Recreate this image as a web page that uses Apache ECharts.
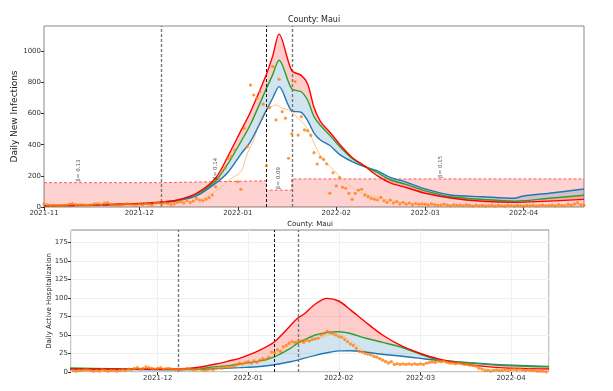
<!DOCTYPE html>
<html>
<head>
<meta charset="utf-8">
<script src="https://cdn.jsdelivr.net/npm/echarts@6/dist/echarts.min.js"></script>
<style>
html, body { margin: 0; padding: 0; background: #fff; }
#chart { width: 613px; height: 391px; }
</style>
</head>
<body>
<div id="chart"></div>
<script>
// ---------- top panel: daily new infections ----------
var topModelDates = ['2021-11-01','2021-11-15','2021-12-01','2021-12-08','2021-12-13','2021-12-19','2021-12-25','2021-12-29',
    '2022-01-02','2022-01-05','2022-01-10','2022-01-12','2022-01-14','2022-01-18','2022-01-21','2022-01-23','2022-01-25',
    '2022-01-27','2022-01-30','2022-02-02','2022-02-06','2022-02-10','2022-02-14','2022-02-18','2022-02-23','2022-03-01',
    '2022-03-09','2022-03-19','2022-03-29','2022-04-01','2022-04-09','2022-04-20'];
var topRed   = [8, 12, 22, 32, 45, 88, 185, 330, 490, 610, 850, 970, 1110, 875, 845, 790, 640, 550, 480, 405, 318, 262, 200, 155, 125, 88, 58, 37, 30, 31, 38, 49];
var topGreen = [8, 12, 21, 30, 43, 82, 168, 280, 420, 530, 760, 850, 942, 758, 740, 685, 580, 525, 460, 390, 312, 262, 220, 175, 145, 104, 66, 49, 38, 40, 56, 75];
var topBlue  = [8, 11, 19, 27, 40, 71, 152, 225, 340, 420, 620, 700, 773, 617, 608, 555, 475, 430, 395, 338, 292, 258, 232, 190, 160, 116, 77, 66, 56, 71, 88, 116];

var topAvgDates = ['2021-11-01','2021-11-15','2021-12-01','2021-12-10','2021-12-15','2021-12-20','2021-12-24','2021-12-27',
    '2021-12-30','2022-01-02','2022-01-04','2022-01-06','2022-01-08','2022-01-10','2022-01-13','2022-01-15','2022-01-17',
    '2022-01-20','2022-01-23','2022-01-25','2022-01-27','2022-01-30','2022-02-02','2022-02-05','2022-02-08','2022-02-13',
    '2022-02-17','2022-02-22','2022-02-27','2022-03-10','2022-03-20','2022-04-01','2022-04-20'];
var topAvg = [12, 15, 18, 25, 34, 45, 88, 130, 184, 227, 344, 430, 559, 623, 655, 634, 623, 570, 500, 410, 330, 260, 200, 140, 100, 66, 45, 28, 19, 14, 12, 11, 13];

// observed daily cases from 2021-11-01
var topObsStart = '2021-11-01';
var topObs = [20,14,10,12,8,9,10,12,18,22,15,14,16,12,10,14,20,22,16,25,28,18,15,12,10,16,22,18,14,12,
    20,15,22,18,12,25,30,18,28,22,15,20,30,35,25,40,28,38,55,45,40,50,60,77,130,184,227,250,313,323,366,
    162,114,505,387,783,719,698,740,660,265,638,901,559,820,612,570,313,469,805,462,580,495,490,460,349,276,319,306,276,88,220,
    135,188,127,120,88,49,88,109,114,77,66,56,49,45,62,40,30,45,25,35,20,30,18,25,15,22,18,20,
    18,12,20,15,10,14,18,12,8,15,10,12,8,14,10,6,12,8,10,5,8,12,6,10,8,5,12,9,6,10,8,
    5,10,8,12,6,9,14,8,10,12,7,15,10,8,18,12,20,28,15,10];

var betaDates  = ['2021-11-01','2021-12-08','2022-01-10','2022-01-18','2022-04-20'];
var betaLevels = [156, 168, 108, 180, 180];
var betaLabelDates = ['2021-11-12','2021-12-25','2022-01-14','2022-03-06'];
var betaLabelLevels = [156, 168, 108, 180];
var betaValues = ['0.13', '0.14', '0.09', '0.15'];

var changeDates = ['2021-12-08', '2022-01-10', '2022-01-18'];

var topYTicks = [0, 200, 400, 600, 800, 1000];

// ---------- bottom panel: active hospitalization ----------
var botModelDates = ['2021-11-01','2021-11-15','2021-12-01','2021-12-08','2021-12-15','2021-12-21','2021-12-26','2021-12-29',
    '2022-01-05','2022-01-10','2022-01-15','2022-01-18','2022-01-20','2022-01-24','2022-01-28','2022-02-01','2022-02-05',
    '2022-02-10','2022-02-16','2022-02-22','2022-03-01','2022-03-05','2022-03-09','2022-03-17','2022-03-28','2022-04-14'];
var botRed   = [4.2, 4.0, 3.8, 4.0, 6.5, 10.8, 15.5, 18.5, 29.7, 41, 61, 73, 78, 92, 99.5, 96, 84, 68, 50, 36.4, 25, 20, 16, 10.3, 5.9, 4.0];
var botGreen = [5.5, 4.5, 3.8, 3.6, 4.5, 7.2, 9.0, 10.8, 15, 20.5, 31, 39, 43, 50, 53.5, 54.4, 52, 46, 40, 34, 24, 18.5, 15.5, 12.4, 9.2, 7.0];
var botBlue  = [4.0, 3.5, 3.0, 3.0, 3.5, 4.5, 5.3, 5.9, 7.5, 9.8, 13.5, 16, 18.4, 22.5, 26, 28.5, 28.8, 27, 24, 21.6, 18.4, 16.5, 15, 12.8, 9.8, 7.6];

var botAvgDates = ['2021-11-01','2021-11-10','2021-11-20','2021-11-27','2021-12-05','2021-12-15','2021-12-22','2021-12-28',
    '2022-01-03','2022-01-07','2022-01-11','2022-01-15','2022-01-20','2022-01-25','2022-01-30','2022-02-02','2022-02-06',
    '2022-02-10','2022-02-14','2022-02-18','2022-02-22','2022-03-01','2022-03-08','2022-03-15','2022-03-20','2022-03-25',
    '2022-04-01','2022-04-14'];
var botAvg = [2, 2, 2.5, 5, 4.5, 3.5, 4.5, 8, 13, 17, 27, 36, 41, 45, 52, 50, 40, 28, 21, 14, 11, 11, 13.5, 11, 7, 3, 2.5, 1.5];

var botObsStart = '2021-11-01';
var botObs = [1,2,1,2,2,3,3,2,1,2,1,3,2,1,2,2,1,2,3,2,4,3,5,6,4,5,7,6,5,4,
    5,6,4,5,5,4,3,4,3,4,5,4,3,3,4,3,2,3,4,3,5,6,5,7,6,7,8,10,12,11,13,
    14,12,15,13,16,18,17,20,27,26,30,28,34,36,39,41,40,41,42,40,43,42,44,45,46,50,52,55,53,52,50,
    48,47,44,41,38,36,32,28,27,25,24,23,21,20,18,16,14,12,14,10,11,10,11,10,11,10,11,10,
    11,10,12,13,14,13,15,14,15,13,12,12,11,12,11,10,10,9,9,8,5,4,2,2,1,2,3,2,2,3,2,
    3,4,3,4,3,2,3,2,2,1,1,1,0];

var botYTicks = [0, 25, 50, 75, 100, 125, 150, 175];

// ---------- helpers ----------
var FONT = 'DejaVu Sans';
var DAY = 864e5;
var RED = '#ff0000', GREEN = '#2ca02c', BLUE = '#1f77b4', ORANGE = '#ff7f0e', ORANGE_LIGHT = '#ffbf86';

function ts(s) {
    var p = s.split('-');
    return new Date(+p[0], +p[1] - 1, +p[2]).getTime();
}
function pairs(dates, vals) {
    return dates.map(function(d, i) { return [ts(d), vals[i]]; });
}
function daily(start, vals) {
    var p = start.split('-');
    return vals.map(function(v, i) { return [new Date(+p[0], +p[1] - 1, +p[2] + i).getTime(), v]; });
}
function monthLabel(v) {
    var d = new Date(v);
    var m = d.getMonth() + 1;
    return d.getFullYear() + '-' + (m < 10 ? '0' + m : m);
}

function band(ax, dates, lower, upper, color, id) {
    var base = {
        type: 'line', xAxisIndex: ax, yAxisIndex: ax, stack: id, stackStrategy: 'all',
        smooth: 0.3, symbol: 'none', silent: true, z: 2, animation: false,
        lineStyle: { opacity: 0 },
        data: pairs(dates, lower)
    };
    var diff = Object.assign({}, base, {
        data: dates.map(function(d, i) { return [ts(d), upper[i] - lower[i]]; }),
        areaStyle: { color: color, opacity: 1 }
    });
    return [base, diff];
}
function line(ax, data, color, width, z) {
    return {
        type: 'line', xAxisIndex: ax, yAxisIndex: ax, smooth: 0.3, symbol: 'none',
        silent: true, z: z, animation: false,
        lineStyle: { color: color, width: width },
        data: data
    };
}
function dots(ax, data) {
    return {
        type: 'scatter', xAxisIndex: ax, yAxisIndex: ax, symbol: 'circle', symbolSize: 3.2,
        silent: true, z: 6, animation: false,
        itemStyle: { color: ORANGE },
        data: data
    };
}
function vlines(ax) {
    var styles = [
        { color: '#777', width: 1.4, type: [3, 2] },
        { color: '#111', width: 1, type: [3, 2] },
        { color: '#777', width: 1.4, type: [3, 2] }
    ];
    return {
        type: 'line', xAxisIndex: ax, yAxisIndex: ax, data: [], z: 8, silent: true, animation: false,
        markLine: {
            silent: true, symbol: 'none', animation: false,
            label: { show: false },
            data: changeDates.map(function(d, i) { return { xAxis: ts(d), lineStyle: styles[i] }; })
        }
    };
}

var chart = echarts.init(document.getElementById('chart'), null, { renderer: 'canvas' });

var series = [];
// top: beta rectangles
series.push({
    type: 'line', xAxisIndex: 0, yAxisIndex: 0, step: 'end', symbol: 'none', silent: true, z: 1, animation: false,
    lineStyle: { color: '#ff5a5a', width: 1, type: [3, 2] },
    areaStyle: { color: 'rgba(255,0,0,0.25)', origin: 'start' },
    data: pairs(betaDates, betaLevels)
});
series = series.concat(band(0, topModelDates, topGreen, topRed, 'rgba(255,0,0,0.2)', 'tg'));
series = series.concat(band(0, topModelDates, topBlue, topGreen, 'rgba(31,119,180,0.2)', 'tb'));
series.push(line(0, pairs(topAvgDates, topAvg), ORANGE_LIGHT, 1, 3));
series.push(line(0, pairs(topModelDates, topBlue), BLUE, 1.4, 4));
series.push(line(0, pairs(topModelDates, topGreen), GREEN, 1.4, 4));
series.push(line(0, pairs(topModelDates, topRed), RED, 1.4, 5));
series.push(dots(0, daily(topObsStart, topObs)));
series.push({
    type: 'scatter', xAxisIndex: 0, yAxisIndex: 0, symbolSize: 0, silent: true, z: 7, animation: false,
    data: pairs(betaLabelDates, betaLabelLevels),
    label: {
        show: true, position: 'top', distance: 1, rotate: 90, align: 'left', verticalAlign: 'middle',
        fontFamily: FONT, fontSize: 5.5, color: '#333',
        formatter: function(p) { return '\u03b2= ' + betaValues[p.dataIndex]; }
    }
});
series.push(vlines(0));

// bottom
series = series.concat(band(1, botModelDates, botGreen, botRed, 'rgba(255,0,0,0.2)', 'bg'));
series = series.concat(band(1, botModelDates, botBlue, botGreen, 'rgba(31,119,180,0.2)', 'bb'));
series.push(line(1, pairs(botAvgDates, botAvg), ORANGE_LIGHT, 1, 3));
series.push(line(1, pairs(botModelDates, botBlue), BLUE, 1.4, 4));
series.push(line(1, pairs(botModelDates, botGreen), GREEN, 1.4, 4));
series.push(line(1, pairs(botModelDates, botRed), RED, 1.4, 5));
series.push(dots(1, daily(botObsStart, botObs)));
series.push(vlines(1));

function xAxisOf(grid, min, max) {
    return {
        type: 'time', gridIndex: grid, min: min, max: max,
        minInterval: 28 * DAY, maxInterval: 31 * DAY,
        axisLine: { show: false },
        axisTick: { show: true, length: 3, lineStyle: { color: '#333' } },
        axisLabel: {
            fontFamily: FONT, fontSize: 7, color: '#333', margin: 3,
            showMaxLabel: false, hideOverlap: false,
            formatter: monthLabel
        },
        splitLine: { show: grid === 1, lineStyle: { color: '#f0f0f0' } }
    };
}
function yAxisOf(grid, ticks, max, name, nameSize, gap) {
    return {
        type: 'value', gridIndex: grid, min: 0, max: max,
        name: name, nameLocation: 'middle', nameGap: gap, nameMoveOverlap: false,
        nameTextStyle: { fontFamily: FONT, fontSize: nameSize, color: '#222' },
        axisLine: { show: false },
        axisTick: { show: true, length: 3, lineStyle: { color: '#333' }, customValues: ticks },
        axisLabel: {
            fontFamily: FONT, fontSize: 7, color: '#333', margin: 3, customValues: ticks,
            formatter: function(v) { return String(v); }
        },
        splitLine: { show: grid === 1, lineStyle: { color: '#f0f0f0' } }
    };
}

chart.setOption({
    animation: false,
    backgroundColor: '#fff',
    grid: [
        { left: 44, top: 26, width: 540, height: 181, show: true, borderColor: '#888', borderWidth: 1,
          backgroundColor: 'transparent', containLabel: false, outerBoundsMode: 'none' },
        { left: 71, top: 230, width: 478, height: 142, show: true, borderColor: '#888', borderWidth: 1,
          backgroundColor: 'transparent', containLabel: false, outerBoundsMode: 'none' }
    ],
    xAxis: [
        xAxisOf(0, ts('2021-11-01'), ts('2022-04-20')),
        xAxisOf(1, ts('2021-11-01') + 0.3 * DAY, ts('2022-04-14'))
    ],
    yAxis: [
        yAxisOf(0, topYTicks, 1162, 'Daily New Infections', 9, 25),
        yAxisOf(1, botYTicks, 192, 'Daily Active Hospitalization', 7, 18)
    ],
    graphic: [
        { type: 'text', x: 314, y: 20, style: { text: 'County: Maui', fontFamily: FONT, fontSize: 8, fill: '#222', textAlign: 'center', textVerticalAlign: 'middle' } },
        { type: 'text', x: 310, y: 224, style: { text: 'County: Maui', fontFamily: FONT, fontSize: 7, fill: '#222', textAlign: 'center', textVerticalAlign: 'middle' } }
    ],
    series: series
});
</script>
</body>
</html>
